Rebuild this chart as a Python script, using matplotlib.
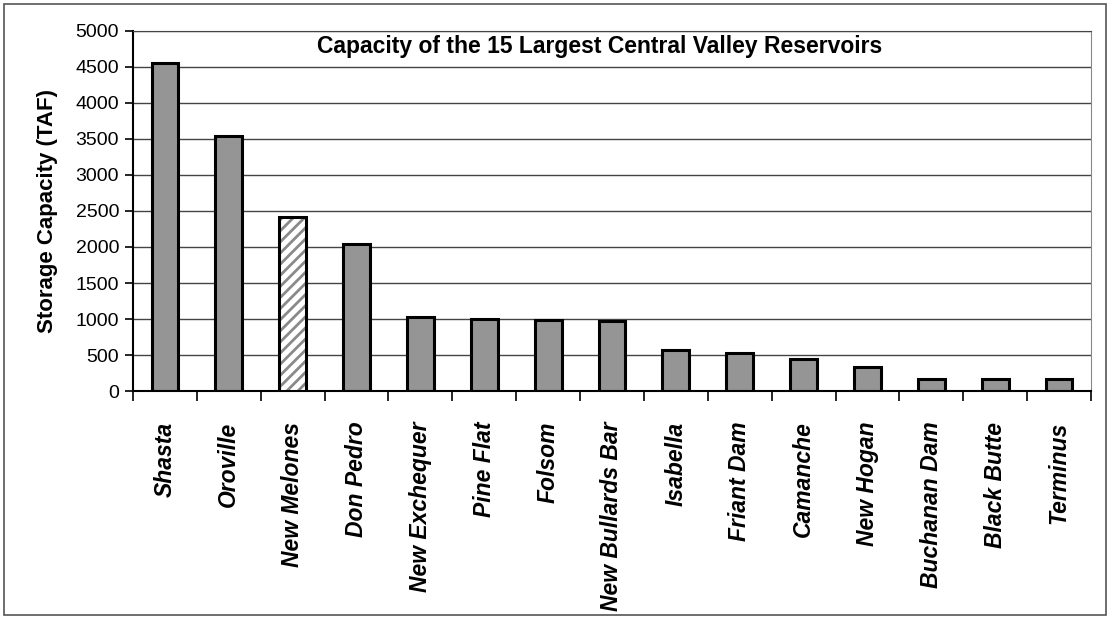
import matplotlib.pyplot as plt
from matplotlib.patches import Rectangle
import numpy as np

plt.rcParams['font.family'] = ['Liberation Sans', 'DejaVu Sans']
plt.rcParams['hatch.linewidth'] = 2.0

reservatorios = ['Shasta', 'Oroville', 'New Melones', 'Don Pedro', 'New Exchequer',
                 'Pine Flat', 'Folsom', 'New Bullards Bar', 'Isabella', 'Friant Dam',
                 'Camanche', 'New Hogan', 'Buchanan Dam', 'Black Butte', 'Terminus']
capacidade = [4560, 3540, 2420, 2040, 1030, 1000, 980, 975, 575, 530, 440, 330, 165, 160, 160]
destaque = 'New Melones'
yticks = [0, 500, 1000, 1500, 2000, 2500, 3000, 3500, 4000, 4500, 5000]

fig = plt.figure(figsize=(11.1, 6.19), dpi=100)
ax = fig.add_axes([0.1198, 0.3683, 0.8631, 0.5817])

x = np.arange(len(reservatorios))
cinza = [c if r != destaque else 0 for r, c in zip(reservatorios, capacidade)]
hach = [c if r == destaque else 0 for r, c in zip(reservatorios, capacidade)]

ax.bar(x, cinza, width=0.42, color='#959595', edgecolor='black', linewidth=2.2, zorder=3)
ax.bar(x, hach, width=0.42, color='white', edgecolor='#8a8a8a', hatch='///', linewidth=0, zorder=3)
ax.bar(x, hach, width=0.42, fill=False, edgecolor='black', linewidth=2.2, zorder=4)

ax.set_xlim(-0.5, len(reservatorios) - 0.5)
ax.set_ylim(0, 5000)
ax.set_yticks(yticks)
ax.yaxis.grid(True, color='#444444', linewidth=1)
ax.set_axisbelow(True)

ax.set_xticks(x)
ax.set_xticklabels(reservatorios, rotation=90, fontsize=16.5, fontweight='bold', style='italic')
ax.set_xticks(np.arange(len(reservatorios) + 1) - 0.5, minor=True)
ax.tick_params(axis='x', which='major', length=0, pad=22)
ax.tick_params(axis='x', which='minor', length=7, width=1.2, direction='out')
ax.tick_params(axis='y', length=6, width=1.2, direction='out', labelsize=14, pad=4)

ax.set_ylabel('Storage Capacity (TAF)', fontsize=16, fontweight='bold')
ax.yaxis.set_label_coords(-0.078, 0.5)

ax.text(0.4875, 0.958, 'Capacity of the 15 Largest Central Valley Reservoirs',
        transform=ax.transAxes, ha='center', va='center', fontsize=16.5, fontweight='bold')

for lado in ['left', 'bottom']:
    ax.spines[lado].set_linewidth(1.5)
ax.spines['top'].set_color('#444444')
ax.spines['right'].set_color('#888888')

fig.patches.append(Rectangle((0.004, 0.006), 0.992, 0.988, transform=fig.transFigure,
                             fill=False, edgecolor='#555555', linewidth=1.2))

fig.savefig('out.png', dpi=100)
